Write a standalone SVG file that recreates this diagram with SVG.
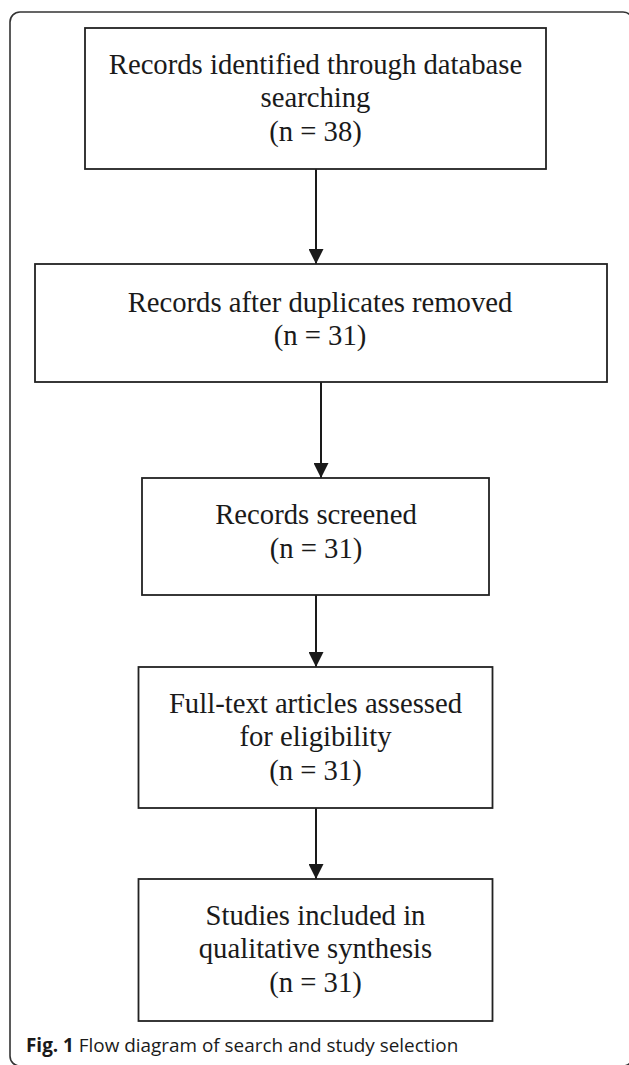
<svg xmlns="http://www.w3.org/2000/svg" width="629" height="1065" viewBox="0 0 629 1065">
<defs>
<style>
.frame{fill:none;stroke:#333;stroke-width:1.6}
.box{fill:#fff;stroke:#222;stroke-width:1.8}
.t{font-family:"Liberation Serif","Times New Roman",serif;font-size:28.7px;fill:#1a1a1a;text-anchor:middle}
.conn{stroke:#1a1a1a;stroke-width:2;fill:none}
.cap{font-family:"Open Sans","Liberation Sans",sans-serif;font-size:18.9px;fill:#1a1a1a}
</style>
<marker id="arr" viewBox="0 0 15 15" refX="15" refY="7.5" markerWidth="15" markerHeight="15" markerUnits="userSpaceOnUse" orient="auto">
<path d="M0,0 L15,7.5 L0,15 Z" fill="#1a1a1a"/>
</marker>
</defs>
<rect class="frame" x="10" y="12" width="623" height="1054" rx="10" ry="10"/>
<g id="connectors">
<line class="conn" x1="316" y1="169" x2="316" y2="264" marker-end="url(#arr)"/>
<line class="conn" x1="321" y1="382" x2="321" y2="478" marker-end="url(#arr)"/>
<line class="conn" x1="316" y1="595" x2="316" y2="667" marker-end="url(#arr)"/>
<line class="conn" x1="316" y1="808" x2="316" y2="879" marker-end="url(#arr)"/>
</g>
<g id="node1">
<rect class="box" x="85" y="28" width="461" height="141"/>
<text class="t" x="315.5" y="74">Records identified through database</text>
<text class="t" x="315.5" y="107">searching</text>
<text class="t" x="315.5" y="141">(n = 38)</text>
</g>
<g id="node2">
<rect class="box" x="35" y="264" width="572" height="118"/>
<text class="t" x="320" y="312">Records after duplicates removed</text>
<text class="t" x="320" y="345">(n = 31)</text>
</g>
<g id="node3">
<rect class="box" x="142" y="478" width="347" height="117"/>
<text class="t" x="316" y="524">Records screened</text>
<text class="t" x="316" y="558">(n = 31)</text>
</g>
<g id="node4">
<rect class="box" x="138.5" y="667" width="354" height="141"/>
<text class="t" x="315.5" y="713">Full-text articles assessed</text>
<text class="t" x="315.5" y="746">for eligibility</text>
<text class="t" x="315.5" y="780">(n = 31)</text>
</g>
<g id="node5">
<rect class="box" x="138.5" y="879" width="354" height="142"/>
<text class="t" x="315.5" y="925">Studies included in</text>
<text class="t" x="315.5" y="958">qualitative synthesis</text>
<text class="t" x="315.5" y="992">(n = 31)</text>
</g>
<g id="caption">
<text class="cap" x="26" y="1052"><tspan font-weight="bold">Fig. 1</tspan> Flow diagram of search and study selection</text>
</g>
</svg>
